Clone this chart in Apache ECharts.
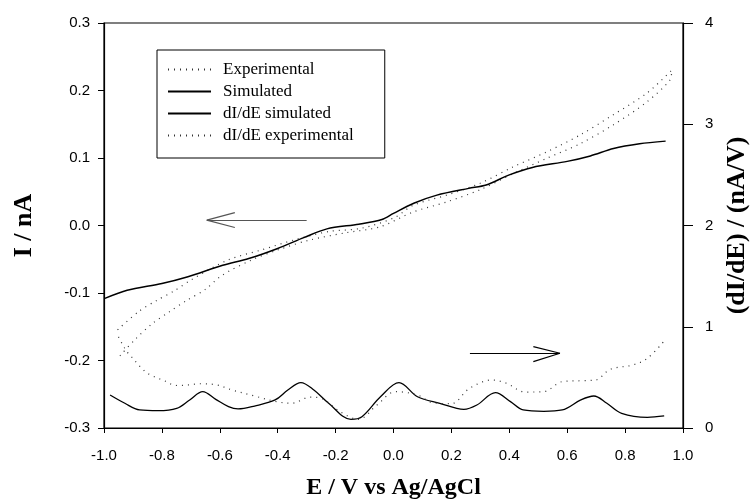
<!DOCTYPE html>
<html>
<head>
<meta charset="utf-8">
<script src="https://cdn.jsdelivr.net/npm/echarts@6/dist/echarts.min.js"></script>
<style>
  html, body { margin: 0; padding: 0; background: #fff; }
  #main { width: 756px; height: 500px; }
</style>
</head>
<body>
<div id="main"></div>
<script>
// 电位 (x) 与电流数据
var eSim = [-0.997, -0.92, -0.80, -0.71, -0.59, -0.50, -0.40, -0.31, -0.23, -0.12, -0.04, 0.00, 0.07, 0.15, 0.26, 0.32, 0.40, 0.48, 0.60, 0.68, 0.76, 0.85, 0.94];
var iSim = [-0.108, -0.096, -0.086, -0.076, -0.059, -0.049, -0.034, -0.018, -0.005, 0.002, 0.009, 0.018, 0.033, 0.045, 0.055, 0.060, 0.075, 0.086, 0.095, 0.103, 0.114, 0.121, 0.125];

// 实验曲线是一个回线：先下支（左→右），再上支（右→左）
var eExp = [-0.945, -0.893, -0.835, -0.775, -0.714, -0.651, -0.593, -0.490, -0.398, -0.294, -0.168, -0.047, 0.068, 0.184, 0.299, 0.414, 0.529, 0.644, 0.759, 0.875, 0.955,
            0.961, 0.875, 0.759, 0.644, 0.529, 0.414, 0.299, 0.184, 0.068, 0.005, -0.110, -0.225, -0.340, -0.455, -0.571, -0.697, -0.758, -0.818, -0.882, -0.959];
var iExp = [-0.193, -0.169, -0.146, -0.128, -0.111, -0.095, -0.074, -0.051, -0.036, -0.022, -0.011, -0.002, 0.020, 0.035, 0.053, 0.077, 0.0995, 0.121, 0.149, 0.183, 0.2155,
            0.230, 0.196, 0.164, 0.134, 0.109, 0.087, 0.0625, 0.045, 0.030, 0.012, -0.004, -0.009, -0.021, -0.036, -0.051, -0.080, -0.097, -0.111, -0.128, -0.157];

// dI/dE 模拟
var eDSim = [-0.979, -0.928, -0.877, -0.813, -0.749, -0.704, -0.659, -0.614, -0.570, -0.537, -0.480, -0.409, -0.365, -0.320, -0.275, -0.224, -0.147, -0.109, -0.045, 0.019, 0.083, 0.160, 0.243, 0.288, 0.352, 0.404, 0.448, 0.519, 0.583, 0.647, 0.692, 0.737, 0.788, 0.877, 0.935];
var dSim = [0.326, 0.244, 0.178, 0.171, 0.194, 0.277, 0.359, 0.283, 0.211, 0.188, 0.217, 0.277, 0.375, 0.448, 0.375, 0.244, 0.086, 0.112, 0.309, 0.448, 0.309, 0.244, 0.184, 0.227, 0.349, 0.260, 0.178, 0.165, 0.178, 0.277, 0.316, 0.244, 0.145, 0.105, 0.119];

// dI/dE 实验
var eDExp = [-0.950, -0.937, -0.920, -0.904, -0.889, -0.872, -0.853, -0.832, -0.810, -0.789, -0.770, -0.749, -0.709, -0.668, -0.610, -0.557, -0.480, -0.403, -0.352, -0.288, -0.249, -0.185, -0.121, -0.057, 0.007, 0.083, 0.135, 0.199, 0.263, 0.340, 0.391, 0.455, 0.519, 0.583, 0.647, 0.698, 0.749, 0.826, 0.877, 0.935];
var dExp = [0.90, 0.83, 0.75, 0.70, 0.65, 0.596, 0.546, 0.514, 0.487, 0.464, 0.435, 0.42, 0.425, 0.437, 0.425, 0.375, 0.316, 0.26, 0.244, 0.305, 0.293, 0.161, 0.086, 0.227, 0.359, 0.326, 0.25, 0.24, 0.392, 0.474, 0.441, 0.355, 0.359, 0.458, 0.467, 0.474, 0.58, 0.622, 0.688, 0.86];

// 刻度
var xTicks = { min: -1, max: 1, step: 0.2 };
var yLeftTicks = { min: -0.3, max: 0.3, step: 0.1 };
var yRightTicks = { min: 0, max: 4, step: 1 };

// 箭头（左轴 / 右轴数据坐标）
var leftArrow = [[-0.300, 0.008], [-0.645, 0.008], [-0.548, 0.019], [-0.548, -0.003]];
var rightArrow = [[0.264, 0.738], [0.575, 0.738], [0.483, 0.803], [0.483, 0.655]];

function pairs(xs, ys) {
    return xs.map(function (x, i) { return [x, ys[i]]; });
}
function arrowLines(a) {
    return [
        [{ coord: a[0] }, { coord: a[1] }],
        [{ coord: a[2] }, { coord: a[1] }],
        [{ coord: a[3] }, { coord: a[1] }]
    ];
}

var myChart = echarts.init(document.getElementById('main'));

var labelFont = { color: '#000', fontFamily: 'Liberation Sans', fontSize: 15 };
var nameFont = { color: '#000', fontFamily: 'Liberation Serif', fontWeight: 'bold', fontSize: 24 };
var yNameFont = { color: '#000', fontFamily: 'Liberation Serif', fontWeight: 'bold', fontSize: 26 };
var dotted = [1, 5];

var option = {
    animation: false,
    backgroundColor: '#fff',
    grid: {
        left: 104, right: 73, top: 23, bottom: 72,
        containLabel: false,
        outerBoundsMode: 'none',
        show: true, borderColor: '#000', borderWidth: 1.2
    },
    legend: {
        orient: 'vertical',
        left: 157, top: 50,
        padding: [11, 31, 14, 10],
        itemGap: 5,
        itemWidth: 43,
        itemHeight: 14,
        borderColor: '#000',
        borderWidth: 1,
        itemStyle: { color: 'rgba(0,0,0,0)', borderWidth: 0 },
        textStyle: { color: '#000', fontFamily: 'Liberation Serif', fontSize: 17, padding: [0, 0, 0, 7] },
        data: ['Experimental', 'Simulated', 'dI/dE simulated', 'dI/dE experimental']
    },
    xAxis: {
        type: 'value',
        min: xTicks.min, max: xTicks.max, interval: xTicks.step,
        name: 'E / V vs Ag/AgCl',
        nameLocation: 'middle',
        nameGap: 48,
        nameTextStyle: nameFont,
        axisLine: { onZero: false, lineStyle: { color: '#000', width: 1.2 } },
        axisTick: { length: 5, lineStyle: { color: '#000' } },
        axisLabel: Object.assign({ margin: 20, formatter: function (v) { return v.toFixed(1); } }, labelFont),
        splitLine: { show: false }
    },
    yAxis: [{
        type: 'value',
        min: yLeftTicks.min, max: yLeftTicks.max, interval: yLeftTicks.step,
        name: 'I / nA',
        nameLocation: 'middle',
        nameRotate: 90,
        nameGap: 67,
        nameTextStyle: yNameFont,
        axisLine: { show: true, onZero: false, lineStyle: { color: '#000', width: 1.2 } },
        axisTick: { show: true, length: 6, lineStyle: { color: '#000' } },
        axisLabel: Object.assign({ margin: 14, formatter: function (v) { return v.toFixed(1); } }, labelFont),
        splitLine: { show: false }
    }, {
        type: 'value',
        position: 'right',
        min: yRightTicks.min, max: yRightTicks.max, interval: yRightTicks.step,
        name: '(dI/dE) / (nA/V)',
        nameLocation: 'middle',
        nameRotate: 90,
        nameGap: 41,
        nameTextStyle: yNameFont,
        axisLine: { show: true, onZero: false, lineStyle: { color: '#000', width: 1.2 } },
        axisTick: { show: true, length: 10, lineStyle: { color: '#000' } },
        axisLabel: Object.assign({ margin: 22 }, labelFont),
        splitLine: { show: false }
    }],
    series: [{
        name: 'Experimental',
        type: 'line',
        yAxisIndex: 0,
        symbol: 'none',
        smooth: 0.3,
        lineStyle: { color: '#333', width: 1.2, type: dotted },
        data: pairs(eExp, iExp)
    }, {
        name: 'Simulated',
        type: 'line',
        yAxisIndex: 0,
        symbol: 'none',
        smooth: 0.3,
        lineStyle: { color: '#000', width: 1.5 },
        data: pairs(eSim, iSim),
        markLine: {
            silent: true,
            symbol: ['none', 'none'],
            label: { show: false },
            lineStyle: { color: '#555', width: 1.2, type: 'solid' },
            data: arrowLines(leftArrow)
        }
    }, {
        name: 'dI/dE simulated',
        type: 'line',
        yAxisIndex: 1,
        symbol: 'none',
        smooth: 0.35,
        lineStyle: { color: '#000', width: 1.3 },
        data: pairs(eDSim, dSim),
        markLine: {
            silent: true,
            symbol: ['none', 'none'],
            label: { show: false },
            lineStyle: { color: '#000', width: 1.2, type: 'solid' },
            data: arrowLines(rightArrow)
        }
    }, {
        name: 'dI/dE experimental',
        type: 'line',
        yAxisIndex: 1,
        symbol: 'none',
        smooth: 0.35,
        lineStyle: { color: '#333', width: 1.2, type: dotted },
        data: pairs(eDExp, dExp)
    }]
};

myChart.setOption(option);
</script>
</body>
</html>
